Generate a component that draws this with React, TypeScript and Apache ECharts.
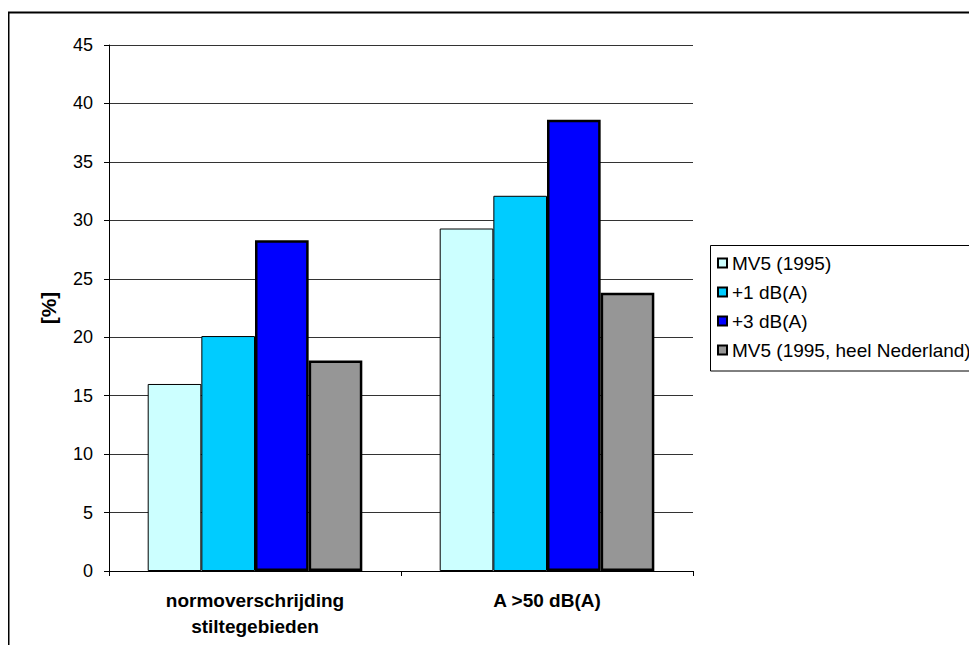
import React, { useEffect, useRef } from "react";
import * as echarts from "echarts";

// Categories on the x axis (two-line label for the first group)
const categories: string[] = ["normoverschrijding\nstiltegebieden", "A >50 dB(A)"];

// Series names as shown in the legend
const seriesNames: string[] = [
  "MV5 (1995)",
  "+1 dB(A)",
  "+3 dB(A)",
  "MV5 (1995, heel Nederland)",
];

// Percentages per series, one value per category
const mv5Values: number[] = [16.0, 29.3];
const plus1Values: number[] = [20.1, 32.1];
const plus3Values: number[] = [28.3, 38.6];
const nederlandValues: number[] = [18.0, 23.8];

// Y axis range
const yMin = 0;
const yMax = 45;
const yStep = 5;

const FONT = 'Arial, "Liberation Sans", sans-serif';

export default function App() {
  const ref = useRef<HTMLDivElement | null>(null);

  useEffect(() => {
    if (!ref.current) return;
    const chart = echarts.init(ref.current, undefined, { renderer: "svg" });

    const seriesData = [mv5Values, plus1Values, plus3Values, nederlandValues];
    const fills = ["#CCFFFF", "#00CCFF", "#0000FF", "#969696"];
    const borders = [1, 1, 2.5, 2.5];

    chart.setOption({
      animation: false,
      backgroundColor: "#ffffff",
      textStyle: { fontFamily: FONT },
      grid: { left: 109, top: 45, right: 284, bottom: 82, containLabel: false },
      graphic: [
        {
          type: "rect",
          shape: { x: 8.5, y: 12.5, width: 1000, height: 700 },
          style: { fill: "none", stroke: "#000", lineWidth: 2 },
          silent: true,
          z: -10,
        },
        {
          type: "rect",
          shape: { x: 710.5, y: 245.5, width: 300, height: 125.5 },
          style: { fill: "#fff", stroke: "#000", lineWidth: 1 },
          silent: true,
          z: -1,
        },
      ],
      legend: {
        orient: "vertical",
        left: 717,
        top: 253,
        padding: 0,
        itemWidth: 9,
        itemHeight: 9,
        itemGap: 9,
        itemTextGap: 9,
        icon: "rect",
        selectedMode: false,
        data: seriesNames,
        textStyle: { fontFamily: FONT, fontSize: 19, color: "#000", lineHeight: 20 },
      },
      xAxis: {
        type: "category",
        data: categories,
        boundaryGap: true,
        axisLine: { lineStyle: { color: "#000", width: 1 } },
        axisTick: { show: true, length: 5, lineStyle: { color: "#000" } },
        axisLabel: {
          margin: 16,
          fontFamily: FONT,
          fontSize: 19,
          fontWeight: "bold",
          color: "#000",
          lineHeight: 26,
        },
      },
      yAxis: {
        type: "value",
        min: yMin,
        max: yMax,
        interval: yStep,
        name: "[%]",
        nameLocation: "middle",
        nameRotate: 90,
        nameGap: 50,
        nameTextStyle: { fontFamily: FONT, fontSize: 21, fontWeight: "bold", color: "#000" },
        axisLine: { show: true, lineStyle: { color: "#000", width: 1 } },
        axisTick: { show: true, length: 5, lineStyle: { color: "#000" } },
        axisLabel: { margin: 16, fontFamily: FONT, fontSize: 18, color: "#000" },
        splitLine: { show: true, lineStyle: { color: "#333", width: 1 } },
      },
      series: seriesNames.map((name, i) => ({
        name,
        type: "bar",
        data: seriesData[i],
        barGap: "0%",
        barCategoryGap: "26.5%",
        itemStyle: {
          color: fills[i],
          borderColor: "#000",
          borderWidth: borders[i],
        },
      })),
    });

    return () => chart.dispose();
  }, []);

  return <div ref={ref} style={{ width: 977, height: 653, margin: -8 }} />;
}
